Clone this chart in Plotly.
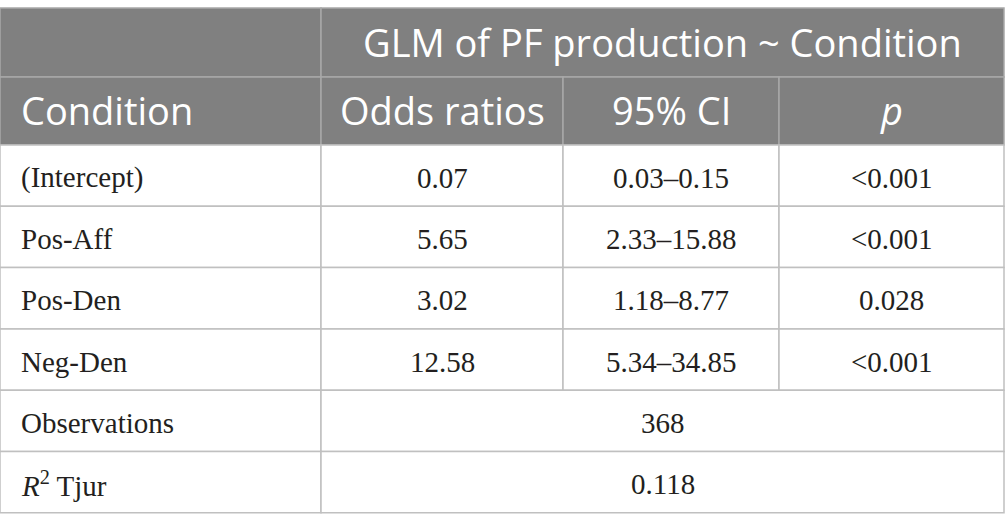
import plotly.graph_objects as go

# table contents
conditions = ["(Intercept)", "Pos-Aff", "Pos-Den", "Neg-Den"]
odds_ratios = ["0.07", "5.65", "3.02", "12.58"]
ci_low = ["0.03", "2.33", "1.18", "5.34"]
ci_high = ["0.15", "15.88", "8.77", "34.85"]
p_values = ["<0.001", "<0.001", "0.028", "<0.001"]
observations = "368"
r2_tjur = "0.118"

model_title = "GLM of PF production ~ Condition"
col_headers = ["Condition", "Odds ratios", "95% CI", "<i>p</i>"]
summary_labels = ["Observations", "<i>R</i><sup>2</sup> Tjur"]

# layout of the grid (pixels)
W, H = 1005, 532
col_w = [321, 242, 216, 225]
head_h = [69, 68]
row_h = 61.3
top = 8

col_x = [0]
for w in col_w:
    col_x.append(col_x[-1] + w)

HEAD_FILL = "#808080"
HEAD_LINE = "#a8a8a8"
BODY_LINE = "#c0c0c0"
TEXT = "#231f20"
HEAD_FONT = dict(family="Open Sans", size=38, color="white")
BODY_FONT = dict(family="Liberation Serif", size=29, color=TEXT)

fig = go.Figure()
shapes = []
annotations = []


def cell(c0, c1, y0, y1, text, font, fill, line, align="center", dy=1):
    shapes.append(dict(type="rect", xref="x", yref="y",
                       x0=col_x[c0], x1=col_x[c1], y0=y0, y1=y1,
                       fillcolor=fill, line=dict(color=line, width=1.5),
                       layer="below"))
    if not text:
        return
    if align == "left":
        x, xa = col_x[c0] + 19, "left"
    else:
        x, xa = (col_x[c0] + col_x[c1]) / 2, "center"
    annotations.append(dict(x=x, y=(y0 + y1) / 2 + dy, xref="x", yref="y",
                            text=text.replace("<0", "&lt;0"), showarrow=False,
                            xanchor=xa, yanchor="middle", font=font))


# header rows
y = top
cell(0, 1, y, y + head_h[0], None, HEAD_FONT, HEAD_FILL, HEAD_LINE)
cell(1, 4, y, y + head_h[0], model_title, HEAD_FONT, HEAD_FILL, HEAD_LINE,
     dy=-1)
y += head_h[0]
for i, h in enumerate(col_headers):
    cell(i, i + 1, y, y + head_h[1], h, HEAD_FONT, HEAD_FILL, HEAD_LINE,
         align="left" if i == 0 else "center", dy=-1)
y += head_h[1]

# body rows
for k in range(len(conditions)):
    vals = [conditions[k], odds_ratios[k],
            ci_low[k] + "–" + ci_high[k], p_values[k]]
    for i, v in enumerate(vals):
        cell(i, i + 1, y, y + row_h, v, BODY_FONT, "white", BODY_LINE,
             align="left" if i == 0 else "center", dy=2)
    y += row_h

for lab, val in zip(summary_labels, [observations, r2_tjur]):
    cell(0, 1, y, y + row_h, lab, BODY_FONT, "white", BODY_LINE,
         align="left", dy=2)
    cell(1, 4, y, y + row_h, val, BODY_FONT, "white", BODY_LINE, dy=2)
    y += row_h

fig.update_layout(
    width=W, height=H,
    margin=dict(l=0, r=0, t=0, b=0),
    paper_bgcolor="white", plot_bgcolor="white",
    xaxis=dict(range=[0, W], visible=False, fixedrange=True),
    yaxis=dict(range=[H, 0], visible=False, fixedrange=True),
    shapes=shapes, annotations=annotations,
    showlegend=False,
)

fig.write_html("out.html", config={"displayModeBar": False},
               post_script="document.body.style.margin='0';"
                           "document.body.style.overflow='hidden';")
